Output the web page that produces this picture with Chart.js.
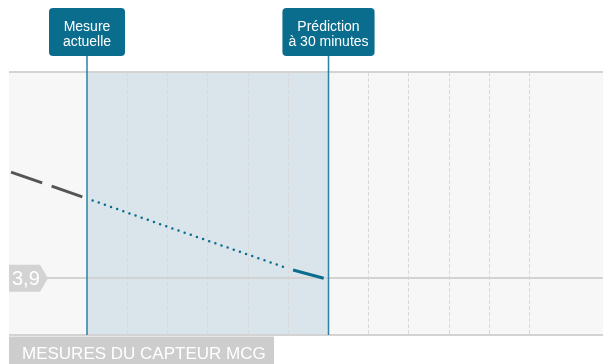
<!DOCTYPE html>
<html>
<head>
<meta charset="utf-8">
<script src="https://cdn.jsdelivr.net/npm/chart.js@4.4.1/dist/chart.umd.min.js"></script>
<style>
html, body { margin: 0; padding: 0; background: #fff; }
#wrap { width: 603px; height: 364px; }
</style>
</head>
<body>
<div id="wrap"><canvas id="mcg"></canvas></div>
<script>
// minutes relative to the current reading, glucose in mmol/L
var histTimes = [-9.44, -0.58];
var histValues = [5.96, 5.48];
var predTimes = [0.7, 7.6, 24.4];
var predValues = [5.41, 5.03, 4.12];
var endTimes = [25.6, 29.4];
var endValues = [4.06, 3.9];
var markerTimes = [0, 30];
var markerLabels = [['Mesure', 'actuelle'], ['Prédiction', 'à 30 minutes']];
var thresholdValue = 3.9;
var thresholdLabel = '3,9';
var footerLabel = 'MESURES DU CAPTEUR MCG';

var FONT = '"Liberation Sans", Arial, Helvetica, sans-serif';
var BLUE = '#0b6d8d';

function pts(xs, ys) {
    return xs.map(function (x, i) { return { x: x, y: ys[i] }; });
}

var decor = {
    id: 'decor',
    beforeDraw: function (chart) {
        var ctx = chart.ctx, a = chart.chartArea, sx = chart.scales.x;
        ctx.save();
        ctx.fillStyle = '#f7f7f7';
        ctx.fillRect(a.left, a.top, a.right - a.left, a.bottom - a.top);
        var x0 = sx.getPixelForValue(markerTimes[0]);
        var x1 = sx.getPixelForValue(markerTimes[1]);
        ctx.fillStyle = '#d9e4eb';
        ctx.fillRect(x0, a.top, x1 - x0, a.bottom - a.top);
        ctx.restore();
    },
    afterDraw: function (chart) {
        var ctx = chart.ctx, a = chart.chartArea, sx = chart.scales.x, sy = chart.scales.y;
        ctx.save();

        // top and bottom rules
        ctx.strokeStyle = '#d3d3d3';
        ctx.lineWidth = 2;
        ctx.beginPath();
        ctx.moveTo(a.left, a.top); ctx.lineTo(a.right, a.top);
        ctx.moveTo(a.left, a.bottom); ctx.lineTo(a.right, a.bottom);
        ctx.stroke();

        // marker lines and labels
        ctx.font = '14px ' + FONT;
        markerTimes.forEach(function (t, i) {
            var x = sx.getPixelForValue(t);
            ctx.strokeStyle = '#2a82a5';
            ctx.lineWidth = 1.5;
            ctx.beginPath();
            ctx.moveTo(x, 56); ctx.lineTo(x, a.bottom);
            ctx.stroke();

            var lines = markerLabels[i];
            var tw = Math.max.apply(null, lines.map(function (s) { return ctx.measureText(s).width; }));
            var w = Math.max(76, tw + 12);
            ctx.fillStyle = BLUE;
            ctx.beginPath();
            ctx.roundRect(x - w / 2, 8, w, 48, 4);
            ctx.fill();
            ctx.fillStyle = '#fff';
            ctx.textAlign = 'center';
            ctx.textBaseline = 'alphabetic';
            lines.forEach(function (s, j) {
                ctx.fillText(s, x, 30.5 + j * 15);
            });
        });

        // threshold tag
        var y = sy.getPixelForValue(thresholdValue);
        ctx.fillStyle = '#d3d3d3';
        ctx.beginPath();
        ctx.moveTo(a.left, y - 13.5);
        ctx.lineTo(a.left + 31, y - 13.5);
        ctx.lineTo(a.left + 39, y);
        ctx.lineTo(a.left + 31, y + 13.5);
        ctx.lineTo(a.left, y + 13.5);
        ctx.closePath();
        ctx.fill();
        ctx.fillStyle = '#fff';
        ctx.font = '20px ' + FONT;
        ctx.textAlign = 'left';
        ctx.textBaseline = 'middle';
        ctx.fillText(thresholdLabel, a.left + 3, y + 1);

        // footer label
        ctx.fillStyle = '#cdcdcd';
        ctx.fillRect(a.left, a.bottom + 1.5, 265, chart.height - a.bottom);
        ctx.fillStyle = '#fff';
        ctx.font = '17px ' + FONT;
        ctx.textBaseline = 'alphabetic';
        ctx.fillText(footerLabel, a.left + 13, 359);
        ctx.restore();
    }
};

new Chart(document.getElementById('mcg'), {
    type: 'line',
    data: {
        datasets: [
            {
                data: pts(histTimes, histValues),
                borderColor: '#555555',
                borderWidth: 3,
                borderDash: [33, 10],
                pointRadius: 0
            },
            {
                data: pts(predTimes, predValues),
                borderColor: BLUE,
                borderWidth: 2.5,
                borderDash: [0, 6.5],
                borderCapStyle: 'round',
                pointRadius: 0
            },
            {
                data: pts(endTimes, endValues),
                borderColor: BLUE,
                borderWidth: 3,
                pointRadius: 0
            }
        ]
    },
    options: {
        responsive: true,
        maintainAspectRatio: false,
        animation: false,
        layout: { padding: { left: 9, right: 0, top: 72, bottom: 29 } },
        plugins: { legend: { display: false }, tooltip: { enabled: false } },
        scales: {
            x: {
                type: 'linear',
                min: -9.69,
                max: 64.1,
                afterBuildTicks: function (s) {
                    s.ticks = s.ticks.filter(function (t) {
                        return Math.abs(t.value % 5) < 1e-6 && markerTimes.indexOf(t.value) < 0;
                    });
                },
                ticks: { display: false, stepSize: 5 },
                grid: { color: '#d9d9d9', lineWidth: 1, drawTicks: false },
                border: { display: false, dash: [4, 2] }
            },
            y: {
                min: 2.8,
                max: 7.9,
                afterBuildTicks: function (s) {
                    s.ticks = [{ value: thresholdValue }];
                },
                ticks: { display: false },
                grid: { color: '#d3d3d3', lineWidth: 2, drawTicks: false },
                border: { display: false }
            }
        }
    },
    plugins: [decor]
});
</script>
</body>
</html>
